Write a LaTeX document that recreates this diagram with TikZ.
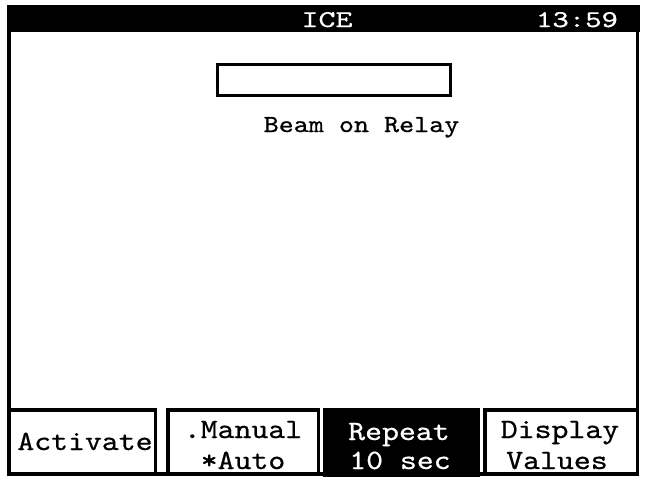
\documentclass[tikz,border=0pt]{standalone}
\usepackage{fontspec}
\usepackage{graphicx}
\newfontfamily\scr{lmmono10-regular.otf}[FakeBold=0.6]
\newcommand\hstretch[2]{\scalebox{#1}[1]{#2}}
\tikzset{
  frameline/.style={draw=black, line width=3.5pt},
  btn/.style={draw=black, line width=3.5pt, fill=white},
  txt/.style={inner sep=0pt, anchor=base},
  bartxt/.style={txt, text=white, font=\scr\fontsize{24pt}{26pt}\selectfont},
  btntxt/.style={txt, font=\scr\fontsize{28pt}{30pt}\selectfont},
  btntxtw/.style={btntxt, text=white},
  captxt/.style={txt, font=\scr\fontsize{24.5pt}{26pt}\selectfont}
}
\begin{document}
\begin{tikzpicture}[x=1pt,y=-1pt]
\useasboundingbox (0,0) rectangle (656,482);
\fill[white] (0,0) rectangle (656,482);
% outer frame
\draw[frameline] (8.75,20) rectangle (637.25,474);
% title bar
\fill[black] (7,5) rectangle (640,32);
\node[bartxt] (title) at (327,27) {\hstretch{1.35}{ICE}};
\node[bartxt] (clock) at (577,27) {\hstretch{1.3}{13:59}};
% indicator box
\draw[draw=black, line width=3pt] (217.5,64.5) rectangle (450.5,95.5);
\node[captxt] (caption) at (361.5,132) {\hstretch{1.17}{Beam on Relay}};
% soft keys
\draw[btn] (8.75,409.75) rectangle (155.25,474);
\draw[btn] (167.75,409.75) rectangle (318.25,474);
\fill[black] (323,408) rectangle (480,477);
\draw[btn] (484.75,409.75) rectangle (637.25,474);
\node[btntxt] (k1) at (85,450) {\hstretch{1.15}{Activate}};
\node[btntxt] (k2a) at (243,438) {\hstretch{1.15}{.Manual}};
\node[btntxt] (k2b) at (243,469) {\hstretch{1.15}{*Auto}};
\node[btntxtw] (k3a) at (399,440) {\hstretch{1.15}{Repeat}};
\node[btntxtw] (k3b) at (400,469) {\hstretch{1.15}{10 sec}};
\node[btntxt] (k4a) at (560,438) {\hstretch{1.15}{Display}};
\node[btntxt] (k4b) at (557,469) {\hstretch{1.15}{Values}};
\end{tikzpicture}
\end{document}
